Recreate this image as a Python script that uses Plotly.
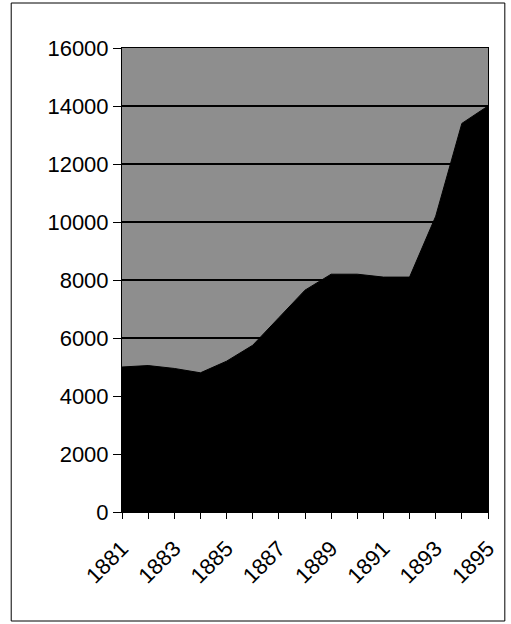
import plotly.graph_objects as go

years = list(range(1881, 1896))
values = [5000, 5050, 4950, 4800, 5200, 5750, 6700, 7650, 8200, 8200, 8100, 8100, 10200, 13400, 14000]
tick_labels = [str(y) if (y - 1881) % 2 == 0 else "" for y in years]
y_ticks = [0, 2000, 4000, 6000, 8000, 10000, 12000, 14000, 16000]
y_tick_labels = [str(v) for v in y_ticks]

fig = go.Figure()
fig.add_trace(go.Scatter(
    x=years, y=values, mode="lines", fill="tozeroy",
    line=dict(color="black", width=1), fillcolor="black",
    hoverinfo="skip", showlegend=False,
))

font = dict(family="Liberation Sans, Arial, sans-serif", size=22, color="black")

fig.update_layout(
    width=511, height=624,
    margin=dict(l=122, r=19, t=48, b=112),
    paper_bgcolor="white",
    plot_bgcolor="#8e8e8e",
    font=font,
    xaxis=dict(
        range=[1881, 1895], tickmode="array", tickvals=years, ticktext=tick_labels,
        tickangle=-45, ticks="outside", ticklen=6, tickcolor="black", tickwidth=1,
        ticklabelstandoff=8,
        showgrid=False, zeroline=False, showline=True, linecolor="black", linewidth=1,
        mirror=True, tickfont=font,
    ),
    yaxis=dict(
        range=[0, 16000], tickmode="array", tickvals=y_ticks, ticktext=y_tick_labels,
        ticks="outside", ticklen=8, tickcolor="black", tickwidth=1,
        showgrid=True, gridcolor="black", gridwidth=2, zeroline=False,
        showline=True, linecolor="black", linewidth=1, mirror=True, tickfont=font,
    ),
    shapes=[dict(
        type="rect", xref="paper", yref="paper",
        x0=(10 - 122) / 370, x1=(509 - 122) / 370,
        y0=(512 - 621) / 464, y1=(512 - 3) / 464,
        line=dict(color="black", width=1), fillcolor="rgba(0,0,0,0)", layer="below",
    )],
)

fig.write_html("out.html", config={"displayModeBar": False},
               post_script="document.body.style.margin='0';")
